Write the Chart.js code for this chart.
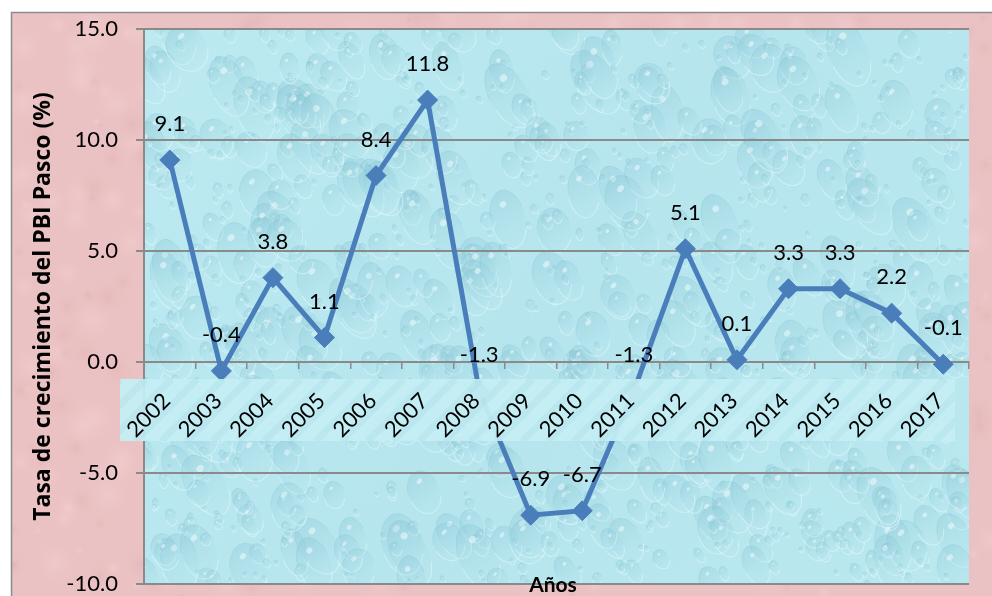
<!DOCTYPE html>
<html>
<head>
<meta charset="utf-8">
<script src="https://cdn.jsdelivr.net/npm/chart.js@4/dist/chart.umd.min.js"></script>
<style>
  html, body { margin: 0; padding: 0; background: #ffffff; }
  #wrap { width: 992px; height: 596px; }
</style>
</head>
<body>
<div id="wrap"><canvas id="c" width="992" height="596"></canvas></div>
<script>
// Annual growth of Pasco's GDP (%)
const years = ['2002', '2003', '2004', '2005', '2006', '2007', '2008', '2009',
               '2010', '2011', '2012', '2013', '2014', '2015', '2016', '2017'];
const growthPct = [9.1, -0.4, 3.8, 1.1, 8.4, 11.8, -1.3, -6.9, -6.7, -1.3, 5.1, 0.1, 3.3, 3.3, 2.2, -0.1];
const yTickValues = [-10, -5, 0, 5, 10, 15];
const yAxisTitle = 'Tasa de crecimiento del PBI Pasco (%)';
const xAxisTitle = 'Años';

const FONT = 'Lato, "Open Sans", sans-serif';
const TITLE_FONT = '"Open Sans", Lato, sans-serif';
const LINE_BLUE = '#4a7ebb';
const GRID_GRAY = '#8a8a8a';

// small deterministic generator for the decorative textures
function seeded(s) {
  return function () {
    s |= 0; s = s + 0x6D2B79F5 | 0;
    let t = Math.imul(s ^ s >>> 15, 1 | s);
    t = t + Math.imul(t ^ t >>> 7, 61 | t) ^ t;
    return ((t ^ t >>> 14) >>> 0) / 4294967296;
  };
}

// water-drop texture for the plotting area
function makeWater(w, h) {
  const c = document.createElement('canvas');
  c.width = w; c.height = h;
  const g = c.getContext('2d');
  const bg = g.createLinearGradient(0, 0, w, h);
  bg.addColorStop(0, '#bdeaf1');
  bg.addColorStop(0.5, '#b6e5ee');
  bg.addColorStop(1, '#bae8ef');
  g.fillStyle = bg;
  g.fillRect(0, 0, w, h);
  const rnd = seeded(11);
  for (let i = 0; i < 1000; i++) {
    const x = rnd() * w, y = rnd() * h;
    const r = 2 + Math.pow(rnd(), 2.4) * 18;
    const ry = r * (1.2 + rnd() * 0.7);
    const rot = -0.35 + (rnd() - 0.5) * 0.5;
    const grd = g.createLinearGradient(x - r, y - ry, x + r, y + ry);
    grd.addColorStop(0, 'rgba(110,180,198,0.26)');
    grd.addColorStop(0.6, 'rgba(150,208,220,0.12)');
    grd.addColorStop(1, 'rgba(215,245,250,0.10)');
    g.fillStyle = grd;
    g.beginPath(); g.ellipse(x, y, r, ry, rot, 0, Math.PI * 2); g.fill();
    g.strokeStyle = 'rgba(225,250,253,0.5)';
    g.lineWidth = 1.2;
    g.beginPath(); g.ellipse(x, y, r, ry, rot, 0.15 * Math.PI, 0.95 * Math.PI); g.stroke();
    g.strokeStyle = 'rgba(120,185,200,0.22)';
    g.lineWidth = 1;
    g.beginPath(); g.ellipse(x, y, r, ry, rot, 1.05 * Math.PI, 1.9 * Math.PI); g.stroke();
    if (r > 4) {
      g.fillStyle = 'rgba(245,253,255,0.5)';
      g.beginPath(); g.ellipse(x - r * 0.3, y - ry * 0.5, r * 0.2, ry * 0.1, -0.8, 0, Math.PI * 2); g.fill();
    }
  }
  return c;
}

// mottled pink texture for the outer panel
function makePink(w, h) {
  const c = document.createElement('canvas');
  c.width = w; c.height = h;
  const g = c.getContext('2d');
  g.fillStyle = '#ebc2c3';
  g.fillRect(0, 0, w, h);
  const rnd = seeded(5);
  for (let i = 0; i < 700; i++) {
    const x = rnd() * w, y = rnd() * h, r = 4 + rnd() * 22;
    const dark = rnd() < 0.5;
    const grd = g.createRadialGradient(x, y, 0, x, y, r);
    grd.addColorStop(0, dark ? 'rgba(205,150,155,0.18)' : 'rgba(250,222,222,0.26)');
    grd.addColorStop(1, 'rgba(236,196,197,0)');
    g.fillStyle = grd;
    g.beginPath(); g.arc(x, y, r, 0, Math.PI * 2); g.fill();
  }
  return c;
}

let waterTex = null, pinkTex = null;

const backgroundPlugin = {
  id: 'panelBackground',
  beforeDraw(chart) {
    const { ctx, chartArea: a, width, height } = chart;
    ctx.save();
    ctx.fillStyle = '#ffffff';
    ctx.fillRect(0, 0, width, height);
    if (!pinkTex) pinkTex = makePink(width, height);
    ctx.drawImage(pinkTex, 11, 12, width - 11, height - 12, 11, 12, width - 11, height - 12);
    ctx.strokeStyle = '#8c8c8c';
    ctx.lineWidth = 1.5;
    ctx.strokeRect(11.5, 12.5, width + 5, height + 5);
    const w = Math.round(a.right - a.left), h = Math.round(a.bottom - a.top);
    if (!waterTex) waterTex = makeWater(w, h);
    ctx.drawImage(waterTex, a.left, a.top, w, h);
    ctx.restore();
  }
};

const overlayPlugin = {
  id: 'labelsOverlay',
  afterDatasetsDraw(chart) {
    const { ctx, chartArea: a } = chart;
    const ys = chart.scales.y;
    const y0 = ys.getPixelForValue(0);
    ctx.save();
    // light band behind the category labels
    const bx = a.left - 24, by = y0 + 17, bw = (a.right - 14) - bx, bh = 62;
    ctx.fillStyle = 'rgba(197,238,244,0.94)';
    ctx.fillRect(bx, by, bw, bh);
    ctx.beginPath();
    ctx.rect(bx, by, bw, bh);
    ctx.clip();
    ctx.strokeStyle = 'rgba(150,205,215,0.18)';
    ctx.lineWidth = 7;
    for (let x = bx - bh; x < bx + bw + bh; x += 25.8) {
      ctx.beginPath(); ctx.moveTo(x, by + bh); ctx.lineTo(x + bh, by); ctx.stroke();
    }
    ctx.restore();

    // value labels above each point
    ctx.save();
    ctx.font = '22px ' + FONT;
    ctx.fillStyle = '#000000';
    ctx.textAlign = 'center';
    ctx.textBaseline = 'middle';
    const meta = chart.getDatasetMeta(0);
    meta.data.forEach((pt, i) => {
      ctx.fillText(growthPct[i].toFixed(1), pt.x, pt.y - 36);
    });
    // horizontal axis title
    ctx.font = 'bold 21px ' + FONT;
    ctx.fillText(xAxisTitle, 553, 585);
    ctx.restore();
  }
};

new Chart(document.getElementById('c'), {
  type: 'line',
  data: {
    labels: years,
    datasets: [{
      data: growthPct,
      borderColor: LINE_BLUE,
      backgroundColor: LINE_BLUE,
      borderWidth: 5,
      pointStyle: 'rectRot',
      pointRadius: 10,
      pointBorderWidth: 1,
      pointBorderColor: LINE_BLUE,
      pointBackgroundColor: LINE_BLUE,
      tension: 0,
      fill: false
    }]
  },
  options: {
    responsive: false,
    devicePixelRatio: 1,
    animation: false,
    layout: { padding: { left: 30, top: 29, right: 23, bottom: 12 } },
    plugins: { legend: { display: false }, tooltip: { enabled: false } },
    scales: {
      x: {
        type: 'category',
        position: { y: 0 },
        offset: true,
        grid: {
          offset: true,
          drawOnChartArea: false,
          drawTicks: true,
          tickLength: 6,
          color: GRID_GRAY,
          lineWidth: 1.5
        },
        border: { display: true, color: GRID_GRAY, width: 2 },
        ticks: {
          z: 1,
          color: '#000000',
          font: { size: 22, family: FONT },
          minRotation: 45,
          maxRotation: 45,
          padding: 20,
          labelOffset: -3,
          autoSkip: false
        }
      },
      y: {
        min: yTickValues[0],
        max: yTickValues[yTickValues.length - 1],
        afterFit(scale) {
          scale.width = 114;
          scale.paddingTop = 0;
          scale.paddingBottom = 0;
        },
        afterBuildTicks(scale) { scale.ticks = yTickValues.map(v => ({ value: v })); },
        grid: {
          color: GRID_GRAY,
          lineWidth: 2,
          drawTicks: true,
          tickLength: 8
        },
        border: { display: true, color: GRID_GRAY, width: 2 },
        ticks: {
          color: '#000000',
          font: { size: 22, family: FONT },
          padding: 18,
          callback: v => Number(v).toFixed(1)
        },
        title: {
          display: true,
          text: yAxisTitle,
          color: '#000000',
          font: { size: 23, weight: 'bold', family: TITLE_FONT },
          padding: { top: 0, bottom: 0 }
        }
      }
    }
  },
  plugins: [backgroundPlugin, overlayPlugin]
});
</script>
</body>
</html>
